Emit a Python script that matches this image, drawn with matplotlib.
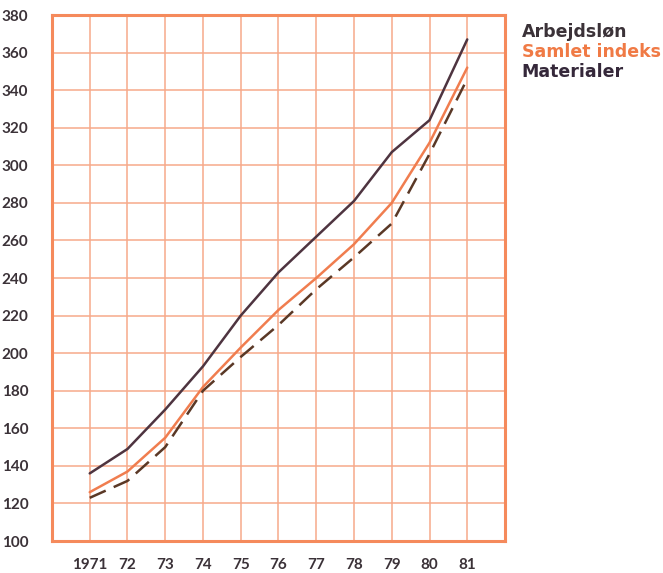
#!/usr/bin/env python3
"""Index chart: Arbejdsløn, Samlet indeks, Materialer 1971-81."""
import matplotlib
matplotlib.use("Agg")
import matplotlib.pyplot as plt

years = [1971, 1972, 1973, 1974, 1975, 1976, 1977, 1978, 1979, 1980, 1981]
year_labels = ["1971", "72", "73", "74", "75", "76", "77", "78", "79", "80", "81"]
arbejdslon = [136, 149, 170, 193, 220, 243, 262, 281, 307, 324, 367]
samlet = [126, 137, 155, 182, 203, 223, 240, 258, 280, 312, 352]
materialer = [123, 132, 150, 180, 198, 215, 234, 251, 269, 306, 346]
y_ticks = list(range(100, 381, 20))

grid_col = "#f7a98a"
frame_col = "#f58a5c"
text_col = "#3b3238"

plt.rcParams["font.family"] = ["Lato", "DejaVu Sans"]

fig = plt.figure(figsize=(6.63, 5.73), dpi=100)
ax = fig.add_axes([0.0784, 0.0558, 0.6833, 0.918])

ax.plot(years, arbejdslon, color="#4e3440", lw=1.8, solid_capstyle="round")
ax.plot(years, samlet, color="#f07d4f", lw=1.8, solid_capstyle="round")
ax.plot(years, materialer, color="#5a3826", lw=1.8, dashes=(7, 3.5))

ax.set_xlim(1970, 1982)
ax.set_ylim(100, 380)
ax.set_xticks(years)
ax.set_xticklabels(year_labels)
ax.set_yticks(y_ticks)
ax.grid(True, color=grid_col, lw=1.1)
ax.set_axisbelow(True)
ax.tick_params(length=0, colors=text_col, labelsize=11, pad=17)
ax.tick_params(axis="x", pad=12)
for lab in ax.get_xticklabels() + ax.get_yticklabels():
    lab.set_fontweight("bold")
for sp in ax.spines.values():
    sp.set_color(frame_col)
    sp.set_linewidth(2.2)

legend_font = dict(family=["DejaVu Sans"], fontsize=12.5, fontweight="bold",
                   va="center")
fig.text(0.787, 0.944, "Arbejdsløn", color=text_col, **legend_font)
fig.text(0.787, 0.909, "Samlet indeks", color="#f07a45", **legend_font)
fig.text(0.787, 0.874, "Materialer", color="#35283a", **legend_font)

fig.savefig("out.png", dpi=100)
